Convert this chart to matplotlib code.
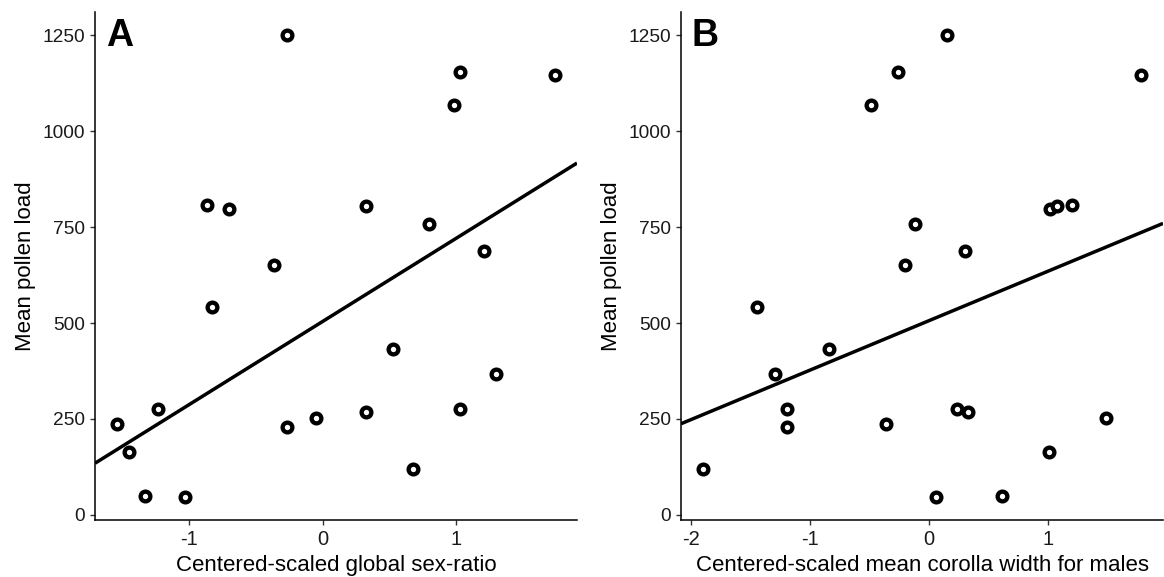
import numpy as np
import matplotlib
matplotlib.use("Agg")
from matplotlib import pyplot as plt

plt.rcParams['font.family'] = ['Liberation Sans', 'DejaVu Sans']

# mean pollen load per population (shared by both panels)
pollen = [1250, 1153, 1068, 1146, 807, 798, 804, 757, 652, 688, 543, 433,
          367, 237, 275, 165, 50, 47, 229, 253, 269, 277, 121]

# panel A: centered-scaled global sex-ratio
sex_ratio = [-0.268, 1.034, 0.983, 1.746, -0.867, -0.703, 0.325, 0.797, -0.364, 1.215, -0.831, 0.531,
             1.305, -1.545, -1.240, -1.455, -1.331, -1.031, -0.268, -0.048, 0.328, 1.031, 0.681]

# panel B: centered-scaled mean corolla width for males
corolla = [0.153, -0.256, -0.488, 1.781, 1.203, 1.016, 1.072, -0.119, -0.200, 0.300, -1.440, -0.838,
           -1.290, -0.356, 0.238, 1.006, 0.613, 0.063, -1.188, 1.484, 0.328, -1.190, -1.897]

# fitted lines (intercept, slope)
fit_a = (504, 216)
fit_b = (506, 129)

W, H = 1164, 577
fig = plt.figure(figsize=(W / 100, H / 100), dpi=100)


def px_axes(left, right, top, bottom):
    return fig.add_axes([left / W, 1 - bottom / H, (right - left) / W, (bottom - top) / H])


def draw_panel(ax, x, y, fit, xlabel, xticks):
    x = np.asarray(x)
    lo, hi = x.min(), x.max()
    pad = (hi - lo) * 0.05
    xlim = (lo - pad, hi + pad)
    ylo, yhi = min(y), max(y)
    ypad = (yhi - ylo) * 0.05
    ax.set_xlim(xlim)
    ax.set_ylim(ylo - ypad, yhi + ypad)

    xs = np.array(xlim)
    ax.plot(xs, fit[0] + fit[1] * xs, color='black', lw=2.5, zorder=2,
            solid_capstyle='butt')
    ax.plot(x, y, linestyle='none', marker='o', ms=7.0, mew=3.1,
            mec='black', mfc='white', zorder=3)

    for s in ['top', 'right']:
        ax.spines[s].set_visible(False)
    for s in ['left', 'bottom']:
        ax.spines[s].set_linewidth(1.1)
    ax.set_xticks(xticks)
    ax.set_xticklabels([str(t) for t in xticks])
    ax.set_yticks([0, 250, 500, 750, 1000, 1250])
    ax.tick_params(axis='both', direction='out', length=3.5, width=1.0,
                   color='#333333', labelcolor='#1a1a1a')
    ax.tick_params(axis='x', labelsize=14.5, pad=4)
    ax.tick_params(axis='y', labelsize=13.8, pad=3.5)
    ax.set_xlabel(xlabel, fontsize=16, labelpad=4)
    ax.set_ylabel('Mean pollen load', fontsize=16, labelpad=5)


ax_a = px_axes(95, 577, 12, 520)
draw_panel(ax_a, sex_ratio, pollen, fit_a, 'Centered-scaled global sex-ratio', [-1, 0, 1])

ax_b = px_axes(681, 1163, 12, 520)
draw_panel(ax_b, corolla, pollen, fit_b, 'Centered-scaled mean corolla width for males', [-2, -1, 0, 1])

fig.text(106 / W, 1 - 46 / H, 'A', fontsize=27, fontweight='bold', va='baseline', ha='left')
fig.text(692 / W, 1 - 46 / H, 'B', fontsize=27, fontweight='bold', va='baseline', ha='left')

fig.savefig('out.png', dpi=100)
